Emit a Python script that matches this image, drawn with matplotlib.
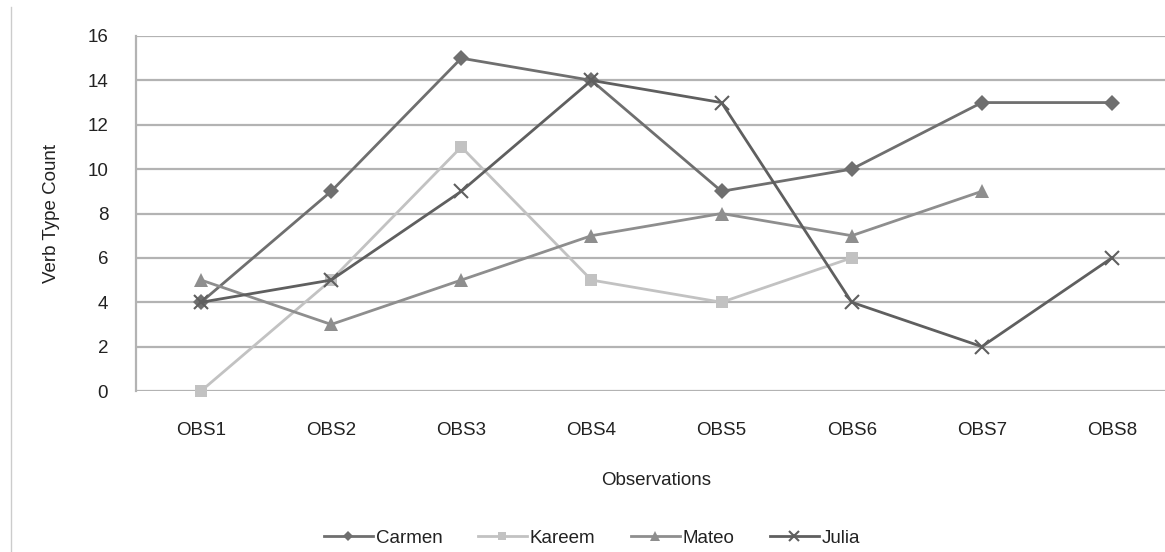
import matplotlib.pyplot as plt
from matplotlib.lines import Line2D

plt.rcParams['font.family'] = ['Liberation Sans', 'DejaVu Sans']

observations = ['OBS1', 'OBS2', 'OBS3', 'OBS4', 'OBS5', 'OBS6', 'OBS7', 'OBS8']
carmen = [4, 9, 15, 14, 9, 10, 13, 13]
kareem = [0, 5, 11, 5, 4, 6]
mateo = [5, 3, 5, 7, 8, 7, 9]
julia = [4, 5, 9, 14, 13, 4, 2, 6]

series = [
    ('Carmen', carmen, '#6f6f6f', 'D', 8),
    ('Kareem', kareem, '#c2c2c2', 's', 9),
    ('Mateo', mateo, '#8e8e8e', '^', 10),
    ('Julia', julia, '#5f5f5f', 'x', 10),
]

fs = 13.5
txt = '#222222'

fig = plt.figure(figsize=(11.65, 5.52), dpi=100)
ax = fig.add_axes([136 / 1165, 1 - 391 / 552, (1177 - 136) / 1165, (391 - 36) / 552])

for name, vals, color, marker, ms in series:
    ax.plot(range(len(vals)), vals, color=color, lw=2, marker=marker, ms=ms,
            mew=1.5 if marker == 'x' else 0, mec=color, label=name,
            zorder=3, clip_on=False)

ax.set_xlim(-0.5, 7.5)
ax.set_ylim(0, 16)
ax.set_yticks(range(0, 17, 2))
ax.set_xticks(range(len(observations)))
ax.set_xticklabels(observations)
ax.yaxis.grid(True, color='#b3b3b3', lw=1.6)
ax.set_axisbelow(True)
for side in ['top', 'right', 'bottom']:
    ax.spines[side].set_visible(False)
ax.spines['left'].set_color('#b3b3b3')
ax.spines['left'].set_linewidth(1.6)
ax.tick_params(axis='both', length=0, labelsize=fs, colors=txt)
ax.tick_params(axis='y', pad=20)
ax.tick_params(axis='x', pad=22)

ax.set_xlabel('Observations', fontsize=fs, color=txt, labelpad=24)
ax.set_ylabel('Verb Type Count', fontsize=fs, color=txt, labelpad=20)

leg = fig.legend(loc='center', bbox_to_anchor=(592 / 1165, 1 - 538 / 552), ncol=4,
                 frameon=False, fontsize=fs, handlelength=2.6, columnspacing=1.9,
                 handletextpad=0.15, markerscale=0.65)
for t in leg.get_texts():
    t.set_color(txt)

# thin frame line on the left edge of the chart area
fig.add_artist(Line2D([11 / 1165, 11 / 1165], [0, 1 - 7 / 552], color='#cccccc', lw=1))

fig.savefig('out.png', dpi=100)
